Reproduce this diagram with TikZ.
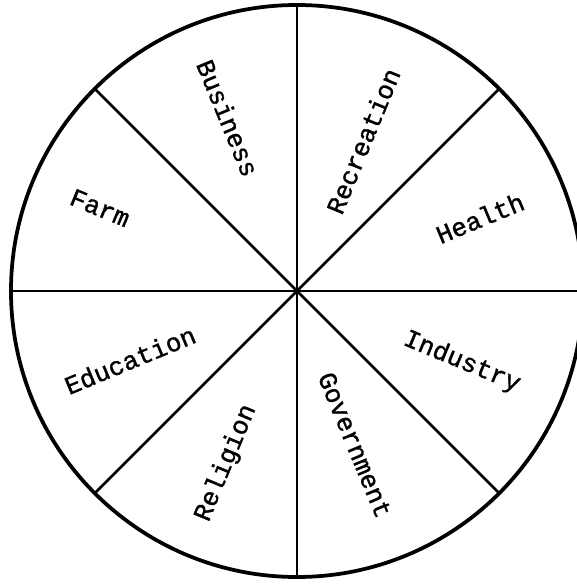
\documentclass[tikz,border=0pt]{standalone}
\usepackage{fontspec}
\setmonofont[FakeBold=1.2]{Liberation Mono}
\usetikzlibrary{positioning}

\begin{document}
\begin{tikzpicture}[x=0.03cm,y=0.03cm,
rim/.style={line width=3.2pt,draw=black},
spoke/.style={line width=2.4pt,draw=black},
sector/.style={font=\ttfamily\fontsize{22}{26}\selectfont,inner sep=0pt}]
\useasboundingbox (-297,-296) rectangle (279,291);
\coordinate (hub) at (0,0);
\draw[rim] (hub) circle (286);
\foreach \a in {0,45,...,315}
 {\coordinate (end\a) at (\a:286);
  \draw[spoke] (hub) -- (end\a);}
\node[sector,rotate=-67.5] (business) at (-69,173) {Business};
\node[sector,rotate=67.5] (recreation) at (66,150) {Recreation};
\node[sector,rotate=22.5] (health) at (183,73) {Health};
\node[sector,rotate=-22.5] (farm) at (-197,83) {Farm};
\node[sector,rotate=22.5] (education) at (-167,-69) {Education};
\node[sector,rotate=-22.5] (industry) at (165,-71) {Industry};
\node[sector,rotate=-67.5] (government) at (58,-154) {Government};
\node[sector,rotate=67.5] (religion) at (-71,-172) {Religion};
\end{tikzpicture}
\end{document}
